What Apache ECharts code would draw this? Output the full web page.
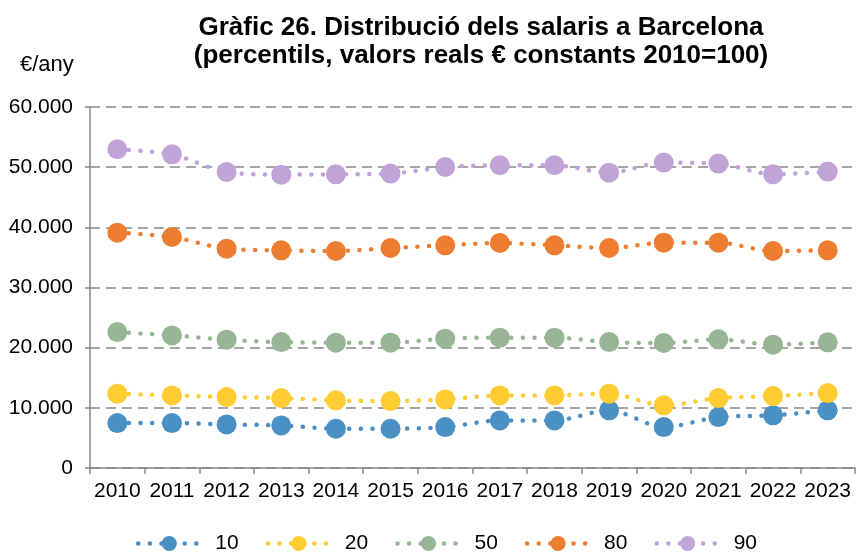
<!DOCTYPE html>
<html>
<head>
<meta charset="utf-8">
<script src="https://cdn.jsdelivr.net/npm/echarts@6/dist/echarts.min.js"></script>
<style>
  html, body { margin: 0; padding: 0; background: #fff; }
  #chart { width: 856px; height: 552px; }
</style>
</head>
<body>
<div id="chart"></div>
<script>
const years = ['2010','2011','2012','2013','2014','2015','2016','2017','2018','2019','2020','2021','2022','2023'];
const p10 = [7460,7460,7250,7080,6530,6530,6800,7910,7910,9580,6800,8460,8750,9580];
const p20 = [12350,12070,11790,11620,11240,11120,11400,12070,12070,12350,10410,11620,11950,12450];
const p50 = [22590,22040,21330,20930,20830,20830,21500,21660,21660,20930,20770,21380,20500,20880];
const p80 = [39120,38390,36460,36180,36060,36560,37010,37390,37010,36560,37450,37450,36060,36180];
const p90 = [52970,52130,49190,48760,48810,48930,50020,50310,50310,49090,50760,50590,48810,49260];
const seriesNames = ['10','20','50','80','90'];
const seriesData = [p10, p20, p50, p80, p90];
const colors = ['#4a90c4','#ffcc33','#98b595','#ed7d31','#c0a4d8'];

const font = '"Liberation Sans", Arial, sans-serif';
const chart = echarts.init(document.getElementById('chart'), null, {renderer: 'canvas'});

const fmt = v => {
  const s = String(Math.round(v));
  return s.replace(/\B(?=(\d{3})+(?!\d))/g, '.');
};

chart.setOption({
  animation: false,
  color: colors,
  title: [{
    text: 'Gràfic 26. Distribució dels salaris a Barcelona\n(percentils, valors reals € constants 2010=100)',
    left: 476, top: 9, textAlign: 'center',
    textStyle: { fontFamily: font, fontSize: 26, fontWeight: 'bold', color: '#000', lineHeight: 28 }
  }, {
    text: '€/any', left: 15, top: 49,
    textStyle: { fontFamily: font, fontSize: 22, fontWeight: 'normal', color: '#000' }
  }],
  grid: { left: 90, right: 1, top: 107, bottom: 84, containLabel: false },
  legend: {
    data: seriesNames,
    left: 131, top: 528,
    itemWidth: 62, itemHeight: 19, itemGap: 27,
    lineStyle: { width: 4.5, type: [0.1, 11.5], cap: 'round' },
    textStyle: { fontFamily: font, fontSize: 21, color: '#000', padding: [0, 0, 0, 10] }
  },
  xAxis: {
    type: 'category', data: years, boundaryGap: true,
    axisLine: { lineStyle: { color: '#888', width: 1.5 } },
    axisTick: { show: true, length: 6, lineStyle: { color: '#888', width: 1.5 } },
    axisLabel: { interval: 0, fontFamily: font, fontSize: 21, color: '#000', margin: 13 }
  },
  yAxis: {
    type: 'value', min: 0, max: 60000, interval: 10000,
    axisLine: { show: true, lineStyle: { color: '#888', width: 1.5 } },
    axisTick: { show: true, length: 5, lineStyle: { color: '#888', width: 1.5 } },
    axisLabel: { fontFamily: font, fontSize: 21, color: '#000', margin: 17, formatter: fmt },
    splitLine: { show: true, lineStyle: { color: '#888', width: 1.5, type: [10, 6] } }
  },
  series: seriesNames.map((n, i) => ({
    name: n, type: 'line', data: seriesData[i],
    smooth: 0.3,
    symbol: 'circle', symbolSize: 20,
    itemStyle: { color: colors[i] },
    lineStyle: { color: colors[i], width: 4.5, type: [0.1, 11.5], cap: 'round' }
  }))
});
</script>
</body>
</html>
